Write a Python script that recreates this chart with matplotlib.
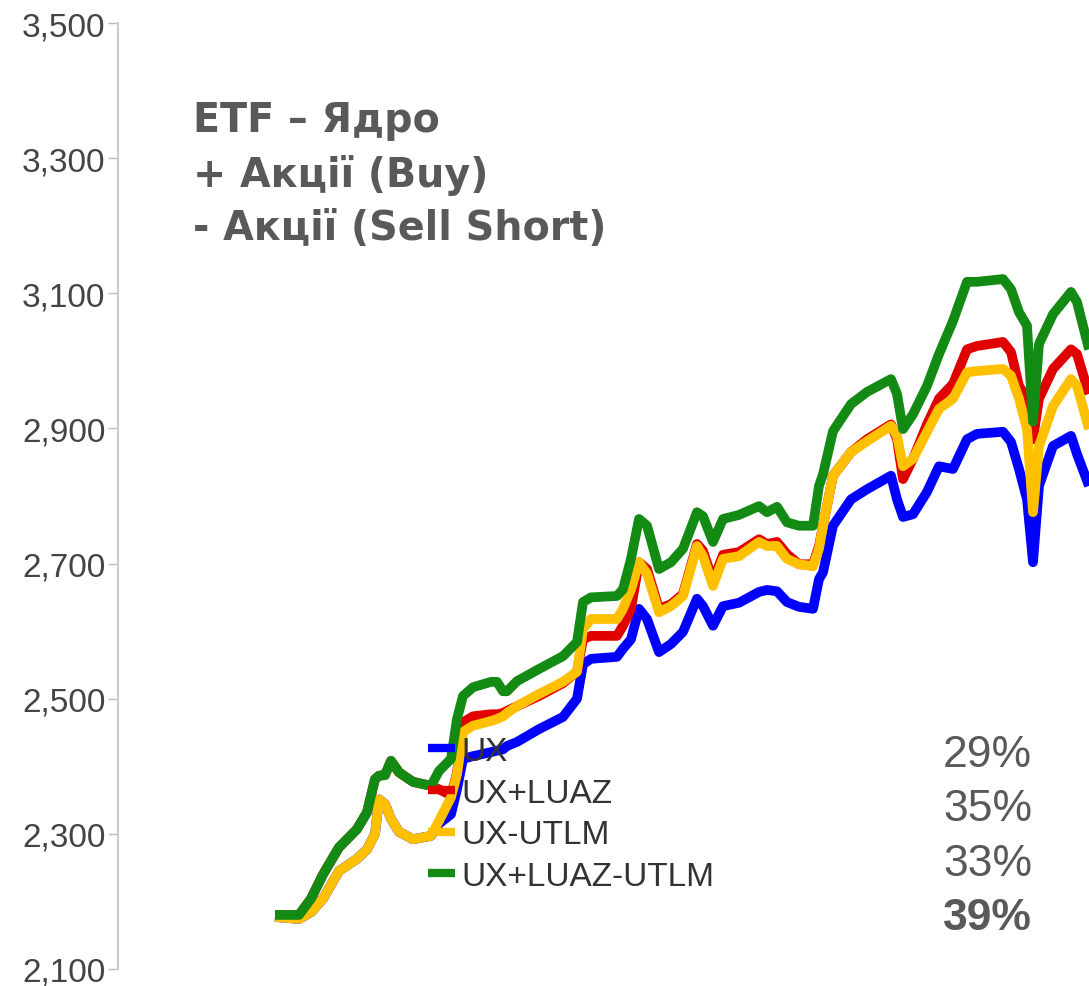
import numpy as np
import matplotlib.pyplot as plt

# trading day index, shared by every series
days = [0, 12, 18, 24, 32, 41, 46, 50, 52, 55, 58, 62, 69, 78, 82, 88, 91, 94, 99,
        108, 111, 114, 116, 121, 132, 144, 151, 154, 158, 171, 174, 178, 182, 186,
        192, 198, 204, 211, 214, 219, 224, 232, 242, 246, 251, 256, 262, 269, 272,
        274, 279, 288, 296, 308, 311, 314, 319, 326, 332, 339, 346, 351, 364, 368,
        372, 376, 379, 382, 389, 398, 401, 407]

ux = [2177, 2174, 2184, 2204, 2245, 2263, 2277, 2300, 2351, 2344, 2322, 2303, 2292,
      2297, 2315, 2329, 2366, 2411, 2415, 2421, 2423, 2425, 2430, 2436, 2455, 2473,
      2500, 2551, 2559, 2562, 2574, 2588, 2633, 2618, 2569, 2581, 2599, 2648, 2637,
      2608, 2637, 2642, 2658, 2661, 2659, 2643, 2636, 2633, 2677, 2687, 2756, 2795,
      2810, 2830, 2795, 2769, 2773, 2806, 2844, 2840, 2884, 2892, 2895, 2880, 2840,
      2795, 2702, 2815, 2874, 2889, 2862, 2815]

ux_luaz = [2180, 2180, 2204, 2240, 2280, 2307, 2332, 2381, 2386, 2387, 2408, 2391,
           2377, 2371, 2366, 2357, 2390, 2465, 2474, 2477, 2477, 2479, 2482, 2489,
           2504, 2523, 2540, 2588, 2593, 2593, 2608, 2633, 2702, 2692, 2633, 2640,
           2655, 2729, 2719, 2674, 2713, 2717, 2736, 2729, 2732, 2714, 2699, 2699,
           2726, 2756, 2830, 2865, 2884, 2906, 2884, 2825, 2855, 2906, 2944, 2966,
           3017, 3022, 3028, 3013, 2963, 2944, 2884, 2944, 2988, 3017, 3010, 2951]

ux_utlm = [2177, 2174, 2184, 2204, 2245, 2263, 2277, 2300, 2351, 2344, 2322, 2303,
           2292, 2297, 2319, 2354, 2388, 2451, 2460, 2467, 2470, 2474, 2479, 2489,
           2507, 2525, 2540, 2603, 2618, 2618, 2633, 2662, 2702, 2685, 2628, 2637,
           2652, 2726, 2711, 2667, 2707, 2711, 2732, 2726, 2726, 2707, 2699, 2696,
           2722, 2756, 2830, 2865, 2881, 2904, 2889, 2844, 2855, 2895, 2929, 2944,
           2983, 2985, 2988, 2978, 2944, 2899, 2776, 2874, 2933, 2973, 2963, 2899]

ux_luaz_utlm = [2180, 2180, 2204, 2240, 2280, 2307, 2332, 2381, 2386, 2387, 2408,
                2391, 2377, 2371, 2393, 2411, 2470, 2504, 2517, 2525, 2525, 2511,
                2511, 2526, 2544, 2563, 2584, 2643, 2650, 2652, 2662, 2707, 2766,
                2756, 2692, 2702, 2722, 2776, 2770, 2732, 2766, 2772, 2785, 2776,
                2784, 2761, 2756, 2756, 2815, 2832, 2896, 2936, 2954, 2973, 2951,
                2899, 2921, 2963, 3010, 3059, 3117, 3117, 3121, 3106, 3072, 3052,
                2910, 3025, 3069, 3102, 3087, 3017]

series_names = ["UX", "UX+LUAZ", "UX-UTLM", "UX+LUAZ-UTLM"]
series_colors = ["#0000ff", "#e00000", "#ffc000", "#138a13"]
returns = ["29%", "35%", "33%", "39%"]
yticks = np.arange(2100, 3501, 200)

W, H = 1089, 987
fig = plt.figure(figsize=(W / 100, H / 100), dpi=100)
ax = fig.add_axes([118 / W, 1 - 970 / H, (W - 118) / W, (970 - 24) / H])

for vals, name, col in zip([ux, ux_luaz, ux_utlm, ux_luaz_utlm], series_names, series_colors):
    ax.plot(days, vals, color=col, lw=7, label=name,
            solid_joinstyle='round', solid_capstyle='butt')

ax.set_xlim(-78.5, 407)
ax.set_ylim(2100, 3500)
ax.set_yticks(yticks)
ax.set_yticklabels([f"{v:,}" for v in yticks])
ax.set_xticks([])
for s in ['top', 'right', 'bottom']:
    ax.spines[s].set_visible(False)
ax.spines['left'].set_color('#cccccc')
ax.spines['left'].set_linewidth(1.5)
ax.tick_params(axis='y', length=7, width=1, color='#bbbbbb', pad=2,
               labelsize=24, labelcolor='#444444')
for lab in ax.get_yticklabels():
    lab.set_family('Liberation Sans')

ax.text(193 / W, 1 - 175 / H, "ETF – Ядро\n+ Акції (Buy)\n- Акції (Sell Short)",
        transform=fig.transFigure, family='DejaVu Sans', fontweight='bold',
        fontsize=28.5, color='#595959', va='center', ha='left', linespacing=1.42)

leg = ax.legend(loc='upper left', bbox_to_anchor=(428 / W, 1 - 737 / H),
                bbox_transform=fig.transFigure, frameon=False, borderpad=0,
                borderaxespad=0, handlelength=0.8, handletextpad=0.2,
                labelspacing=0.32, prop={'family': 'Liberation Sans', 'size': 24})
for t in leg.get_texts():
    t.set_color('#333333')
for h in leg.get_lines():
    h.set_linewidth(6)

for i, r in enumerate(returns):
    fig.text(943 / W, 1 - (767 + 54.5 * i) / H, r, family='Liberation Sans',
             fontsize=32, color='#595959', ha='left', va='baseline',
             fontweight='bold' if i == 3 else 'normal')

fig.savefig("out.png", dpi=100)
